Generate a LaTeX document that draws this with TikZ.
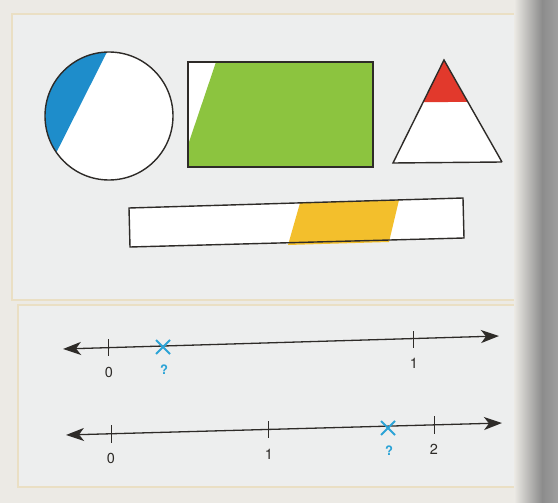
\documentclass[tikz,border=0pt]{standalone}
\usepackage{fontspec}
\setmainfont{TeX Gyre Heros}
\usetikzlibrary{arrows.meta,calc}
\definecolor{pagebg}{HTML}{ECEAE5}
\definecolor{panelbg}{HTML}{EDEEEE}
\definecolor{beige}{HTML}{EADFC4}
\definecolor{cblue}{HTML}{1E8DCB}
\definecolor{cgreen}{HTML}{8CC43F}
\definecolor{cred}{HTML}{E2392C}
\definecolor{cyellow}{HTML}{F3BF2C}
\definecolor{xblue}{HTML}{2BA3D6}
\definecolor{ink}{HTML}{2E2B28}
\tikzset{
  outline/.style={draw=ink, line width=1.4pt},
  numline/.style={draw=ink, line width=1.3pt, {Stealth[length=18pt,width=13pt,inset=5pt]}-{Stealth[length=18pt,width=13pt,inset=5pt]}},
  tick/.style={draw=ink, line width=0.9pt},
  lab/.style={font=\fontsize{14.5}{14.5}\selectfont, text=ink, inner sep=0pt},
  qlab/.style={font=\fontsize{13}{13}\selectfont\bfseries, text=xblue, inner sep=0pt},
  cross/.style={draw=xblue, line width=1.8pt},
  panel/.style={fill=panelbg, draw=beige, line width=1.2pt}
}
\begin{document}
\begin{tikzpicture}[x=1pt,y=-1pt]
\useasboundingbox (0,0) rectangle (558,503);
\fill[pagebg] (0,0) rectangle (558,503);
% panels
\draw[panel] (12,14) rectangle (530,300);
\draw[panel] (18,305) rectangle (530,487);
% gutter shading
\shade[left color=pagebg, right color=black!45] (514,0) rectangle (542,503);
\shade[left color=black!45, right color=black!38] (542,0) rectangle (558,503);

% circle with blue part
\coordinate (cc) at (109,116);
\fill[white] (cc) circle (64);
\fill[cblue] (cc) ++(145.3:64) arc[start angle=145.3, end angle=268.2, radius=64] -- cycle;
\draw[outline] (cc) circle (64);

% rectangle with green part
\fill[white] (188,62) rectangle (373,167);
\fill[cgreen] (216,62) -- (373,62) -- (373,167) -- (188,167) -- (188,145) -- cycle;
\draw[outline] (188,62) rectangle (373,167);

% triangle with red top
\coordinate (ta) at (444,60);
\coordinate (tl) at (393,163);
\coordinate (tr) at (502,162);
\fill[white] (ta) -- (tl) -- (tr) -- cycle;
\fill[cred] (ta) -- ($(ta)!0.41!(tl)$) -- ($(ta)!0.41!(tr)$) -- cycle;
\draw[outline] (tr) -- (ta) -- (tl) -- (tr);

% long bar with yellow part
\fill[white] (129,208) -- (463,198) -- (464,238) -- (130,247) -- cycle;
\fill[cyellow] (300,203) -- (399,200) -- (389,242) -- (288,245) -- cycle;
\draw[outline] (129,208) -- (463,198) -- (464,238) -- (130,247) -- cycle;

% number line 1
\coordinate (a1) at (63,349);
\coordinate (b1) at (499,336);
\draw[numline] (a1) -- (b1);
\draw[tick] (108,339) -- (108,356);
\node[lab] (n10) at (109,372) {0};
\draw[tick] (413,331) -- (413,348);
\node[lab] (n11) at (414,363) {1};
\draw[cross] (156,340) -- (170,354) (156,354) -- (170,340);
\node[qlab] (q1) at (164,370) {?};

% number line 2
\coordinate (a2) at (66,435);
\coordinate (b2) at (502,423);
\draw[numline] (a2) -- (b2);
\draw[tick] (111,425) -- (111,443);
\node[lab] (n20) at (111,458) {0};
\draw[tick] (268,421) -- (268,438);
\node[lab] (n21) at (269,454) {1};
\draw[tick] (434,416) -- (434,434);
\node[lab] (n22) at (434,449) {2};
\draw[cross] (381,421) -- (395,435) (381,435) -- (395,421);
\node[qlab] (q2) at (389,451) {?};
\end{tikzpicture}
\end{document}
